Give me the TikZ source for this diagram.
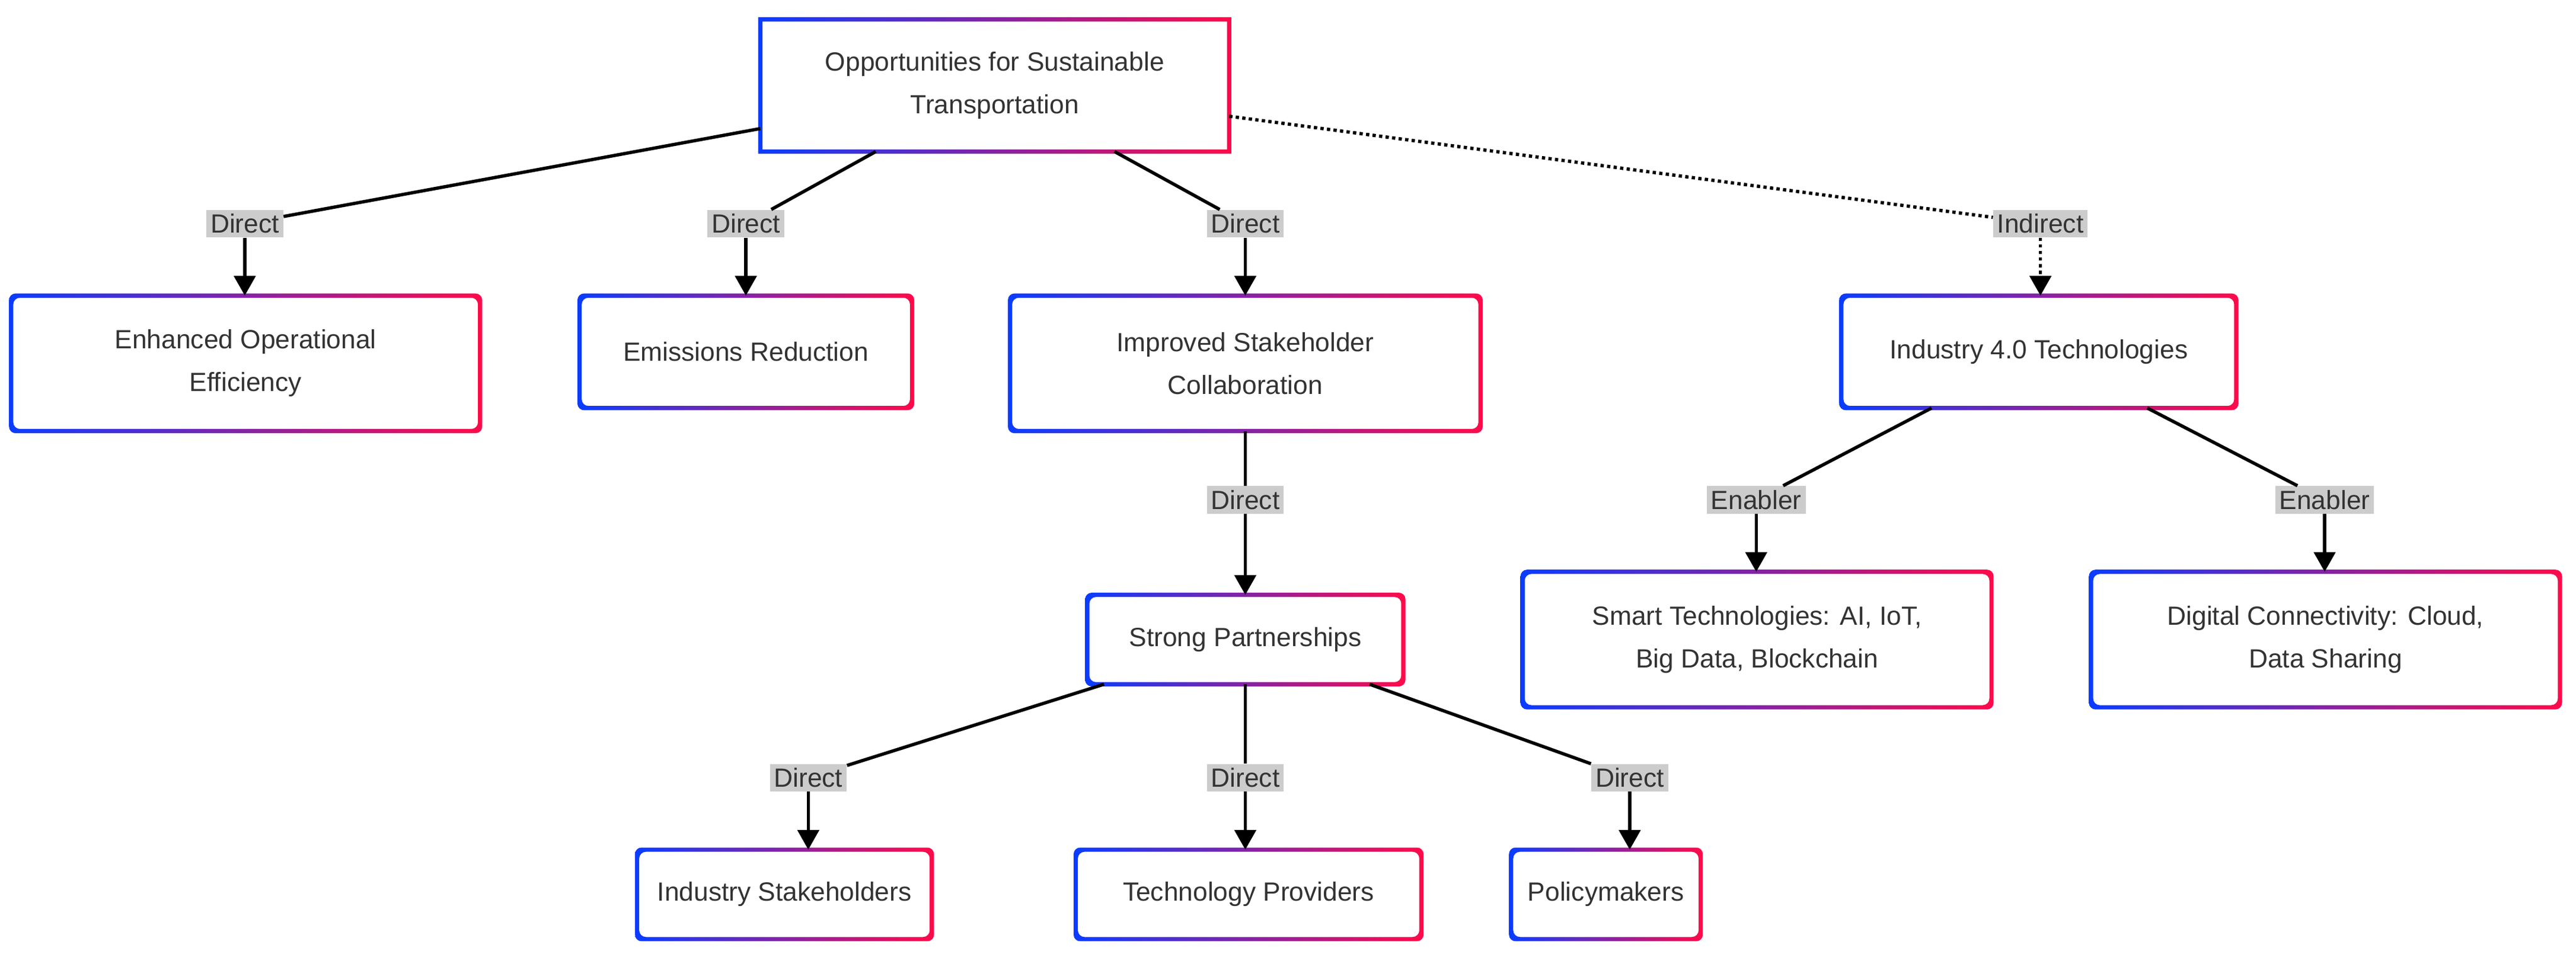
\documentclass[tikz,border=0pt]{standalone}
\usepackage{fontspec}
\setmainfont{Liberation Sans}
\usetikzlibrary{arrows.meta}
\definecolor{cb}{HTML}{0A3CFF}
\definecolor{cr}{HTML}{FF0A4A}
\definecolor{txt}{HTML}{333333}
\definecolor{lbl}{HTML}{CCCCCC}
\newcommand\gb[2]{%
 \shade[left color=cb,right color=cr,even odd rule,rounded corners=#2]
 ([shift={(-1.3pt,1.3pt)}]#1.north west) rectangle ([shift={(1.3pt,-1.3pt)}]#1.south east)
 ([shift={(1.3pt,-1.3pt)}]#1.north west) rectangle ([shift={(-1.3pt,1.3pt)}]#1.south east);}
\begin{document}
\begin{tikzpicture}[x=1pt,y=-1pt,
 box/.style={inner sep=0,align=center,text=txt,font=\fontsize{16}{26}\selectfont},
 lab/.style={fill=lbl,inner sep=2.5pt,text=txt,font=\fontsize{16}{18}\selectfont},
 ln/.style={line width=2pt,black},
 ar/.style={ln,-{Triangle[length=12pt,width=13pt]}}]
\useasboundingbox (0,0) rectangle (1568,582);
\node[box,minimum width=285,minimum height=80] (top) at (605.5,52) {Opportunities for Sustainable\\Transportation};
\node[box,minimum width=285,minimum height=82] (eff) at (149.5,221) {Enhanced Operational\\Efficiency};
\node[box,minimum width=202,minimum height=68] (emi) at (454,214) {Emissions Reduction};
\node[box,minimum width=286,minimum height=82] (col) at (758,221) {Improved Stakeholder\\Collaboration};
\node[box,minimum width=240,minimum height=68] (ind) at (1241,214) {Industry 4.0 Technologies};
\node[box,minimum width=192,minimum height=54] (sp) at (758,389) {Strong Partnerships};
\node[box,minimum width=285,minimum height=82] (smt) at (1069.5,389) {Smart Technologies: AI, IoT,\\Big Data, Blockchain};
\node[box,minimum width=285,minimum height=82] (dig) at (1415.5,389) {Digital Connectivity: Cloud,\\Data Sharing};
\node[box,minimum width=179,minimum height=54] (ist) at (477.5,544) {Industry Stakeholders};
\node[box,minimum width=210,minimum height=54] (tp) at (760,544) {Technology Providers};
\node[box,minimum width=115,minimum height=54] (pm) at (977.5,544) {Policymakers};
\gb{top}{0pt}
\foreach \n in {eff,emi,col,ind,sp,smt,dig,ist,tp,pm}{\gb{\n}{4pt}}
\node[lab] (l1) at (149,136) {Direct};
\node[lab] (l2) at (454,136) {Direct};
\node[lab] (l3) at (758,136) {Direct};
\node[lab] (l4) at (1242,136) {Indirect};
\node[lab] (l5) at (758,304) {Direct};
\node[lab] (l6) at (1069,304) {Enabler};
\node[lab] (l7) at (1415,304) {Enabler};
\node[lab] (l8) at (492,473) {Direct};
\node[lab] (l9) at (758,473) {Direct};
\node[lab] (l10) at (992,473) {Direct};
\draw[ln] (top) -- (l1); \draw[ar] (l1) -- (l1 |- eff.north);
\draw[ln] (top) -- (l2); \draw[ar] (l2) -- (l2 |- emi.north);
\draw[ln] (top) -- (l3); \draw[ar] (l3) -- (l3 |- col.north);
\draw[ln,dotted] (top) -- (l4); \draw[ar,dotted] (l4) -- (l4 |- ind.north);
\draw[ln] (col) -- (l5); \draw[ar] (l5) -- (l5 |- sp.north);
\draw[ln] (ind) -- (l6); \draw[ar] (l6) -- (l6 |- smt.north);
\draw[ln] (ind) -- (l7); \draw[ar] (l7) -- (l7 |- dig.north);
\draw[ln] (sp) -- (l8); \draw[ar] (l8) -- (l8 |- ist.north);
\draw[ln] (sp) -- (l9); \draw[ar] (l9) -- (l9 |- tp.north);
\draw[ln] (sp) -- (l10); \draw[ar] (l10) -- (l10 |- pm.north);
\end{tikzpicture}
\end{document}
